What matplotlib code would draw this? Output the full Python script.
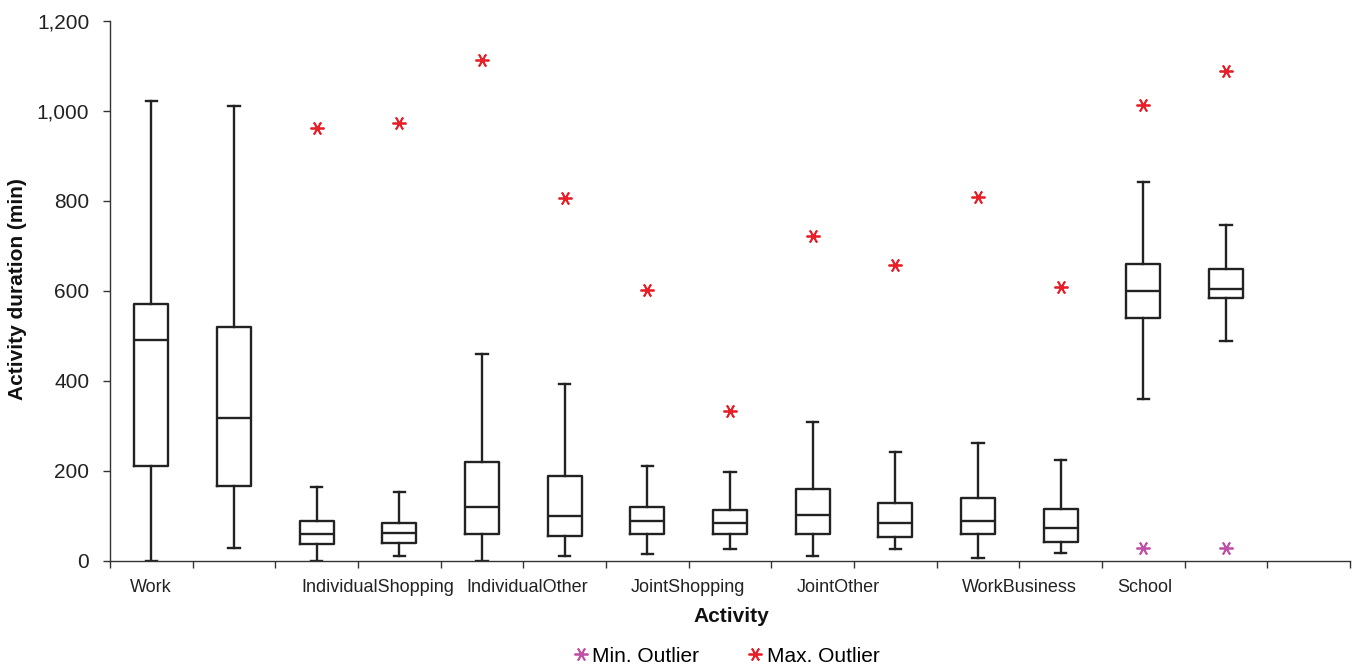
import matplotlib
matplotlib.use("Agg")
import matplotlib.pyplot as plt
from matplotlib.ticker import FuncFormatter, FixedLocator
from matplotlib.lines import Line2D

plt.rcParams['font.family'] = ['Liberation Sans', 'DejaVu Sans']

# Data (minutes), 14 boxes
whislo = [0, 29, 0, 11, 0, 11, 16, 27, 11, 27, 7, 18, 360, 489]
q1     = [211, 167, 38, 40, 60, 56, 60, 60, 60, 53, 60, 42, 540, 584]
med    = [491, 318, 60, 62, 120, 100, 89, 84, 102, 84, 89, 73, 600, 604]
q3     = [571, 520, 89, 84, 220, 189, 120, 113, 160, 129, 140, 116, 660, 649]
whishi = [1022, 1011, 164, 153, 460, 393, 211, 198, 309, 242, 262, 224, 842, 747]
max_outlier = [None, None, 962, 973, 1113, 807, 602, 333, 722, 658, 809, 609, 1013, 1089]
min_outlier = [None, None, None, None, None, None, None, None, None, None, None, None, 29, 29]
cat_labels = ["Work", "IndividualShopping", "IndividualOther", "JointShopping",
              "JointOther", "WorkBusiness", "School"]

fig = plt.figure(figsize=(13.54, 6.64), dpi=100)
ax = fig.add_axes([110/1354, 1-561/664, 1240/1354, 540/664])

positions = [i + 0.5 for i in range(len(med))]
stats = []
for i in range(len(med)):
    stats.append(dict(whislo=whislo[i], q1=q1[i], med=med[i], q3=q3[i], whishi=whishi[i], fliers=[]))

lw = 1.7
ax.bxp(stats, positions=positions, widths=0.41, showfliers=False,
       boxprops=dict(color='#222222', linewidth=lw),
       medianprops=dict(color='#222222', linewidth=lw),
       whiskerprops=dict(color='#222222', linewidth=lw),
       capprops=dict(color='#222222', linewidth=lw), capwidths=0.14)

red = '#e8202a'
purple = '#c050a8'
mk = (6, 2, 90)
mx = [p for p, v in zip(positions, max_outlier) if v is not None]
my = [v for v in max_outlier if v is not None]
ax.plot(mx, my, linestyle='none', marker=mk, markersize=10, markeredgecolor=red,
        markerfacecolor=red, markeredgewidth=1.3)
nx = [p for p, v in zip(positions, min_outlier) if v is not None]
ny = [v for v in min_outlier if v is not None]
ax.plot(nx, ny, linestyle='none', marker=mk, markersize=10, markeredgecolor=purple,
        markerfacecolor=purple, markeredgewidth=1.3)

ax.set_xlim(0, 15)
ax.set_ylim(0, 1200)
ax.set_yticks(range(0, 1201, 200))
ax.yaxis.set_major_formatter(FuncFormatter(lambda v, p: f"{int(v):,}"))
ax.xaxis.set_major_locator(FixedLocator(range(0, 16)))
ax.set_xticklabels([])
for s in ['top', 'right']:
    ax.spines[s].set_visible(False)
for s in ['left', 'bottom']:
    ax.spines[s].set_linewidth(1.0)
    ax.spines[s].set_color('#333333')
ax.tick_params(axis='both', direction='out', length=5, width=1.0, color='#333333',
               labelcolor='#222222')
ax.tick_params(axis='y', labelsize=15, pad=10)

label_offsets = [0.24, 0.31, 0.31, 0.30, 0.31, 0.31, 0.18]
for k, lab in enumerate(cat_labels):
    ax.text(2 * k + label_offsets[k], -0.033, lab, transform=ax.get_xaxis_transform(),
            ha='left', va='top', fontsize=13, color='#222222')

fig.text(18/1354, 1-289/664, "Activity duration (min)", rotation=90, ha='center', va='center',
         fontsize=15, fontweight='bold', color='#111111')
fig.text(731/1354, 1-617/664, "Activity", ha='center', va='center', fontsize=15,
         fontweight='bold', color='#111111')

handles = [Line2D([], [], linestyle='none', marker=mk, markersize=10, markeredgecolor=purple,
                  markerfacecolor=purple, markeredgewidth=1.3),
           Line2D([], [], linestyle='none', marker=mk, markersize=10, markeredgecolor=red,
                  markerfacecolor=red, markeredgewidth=1.3)]
fig.legend(handles, ["Min. Outlier", "Max. Outlier"], loc='center', ncol=2,
           bbox_to_anchor=(727/1354, 1-656/664), frameon=False, fontsize=15,
           handletextpad=0.25, columnspacing=2.4, handlelength=0.6,
           borderpad=0, borderaxespad=0)

fig.savefig("out.png", dpi=100)
